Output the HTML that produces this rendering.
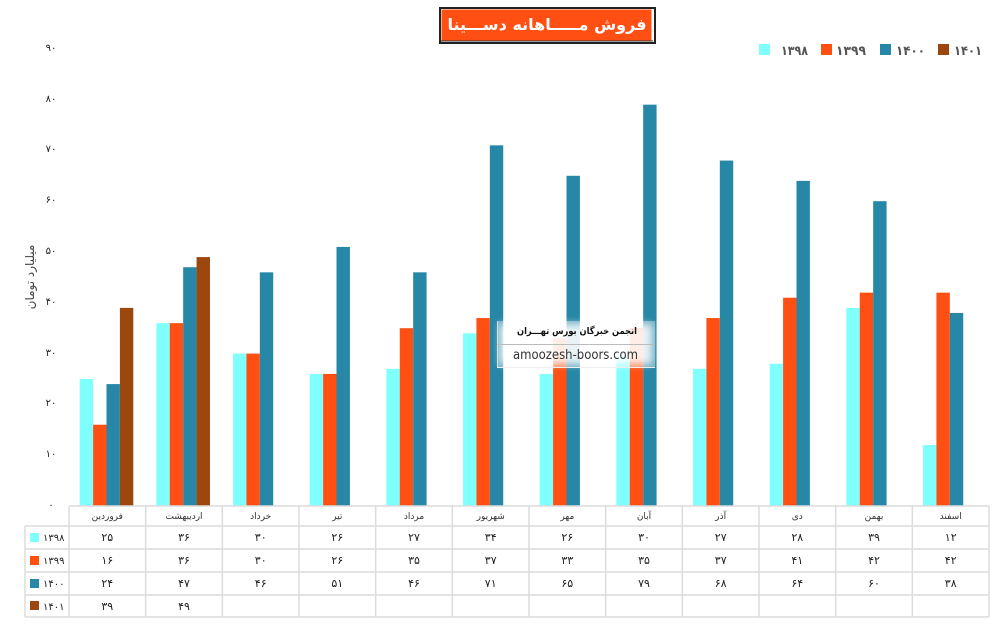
<!DOCTYPE html>
<html><head><meta charset="utf-8">
<style>
html,body{margin:0;padding:0;background:#fff;}
svg{display:block;}
text{font-family:"DejaVu Sans","Liberation Sans",sans-serif;}
</style></head>
<body>
<svg width="998" height="638" viewBox="0 0 998 638" xmlns="http://www.w3.org/2000/svg">
<defs>
<filter id="blur" x="-10%" y="-30%" width="120%" height="160%"><feGaussianBlur stdDeviation="4"/></filter>
</defs>
<rect width="998" height="638" fill="#fff"/>

<!-- Title -->
<rect x="440" y="8" width="215" height="35" fill="#fff" stroke="#222" stroke-width="2"/>
<rect x="441.5" y="9.5" width="210" height="31" fill="#FF4F12"/>
<line x1="441" y1="41" x2="653" y2="41" stroke="#333" stroke-width="1"/>
<text x="547" y="30" font-size="16" font-weight="bold" fill="#fff" text-anchor="middle" direction="rtl">فروش مـــــاهانه دســـینا</text>

<!-- Legend -->
<rect x="759" y="44" width="11" height="11" fill="#80FFFF"/>
<text x="781" y="55" font-size="13" font-weight="bold" fill="#555" textLength="27" lengthAdjust="spacingAndGlyphs">۱۳۹۸</text>
<rect x="821" y="44" width="11" height="11" fill="#FF4F12"/>
<text x="836" y="55" font-size="13" font-weight="bold" fill="#555" textLength="30" lengthAdjust="spacingAndGlyphs">۱۳۹۹</text>
<rect x="880" y="44" width="11" height="11" fill="#2787A6"/>
<text x="896" y="55" font-size="13" font-weight="bold" fill="#555" textLength="29" lengthAdjust="spacingAndGlyphs">۱۴۰۰</text>
<rect x="938" y="44" width="11" height="11" fill="#9B470E"/>
<text x="954" y="55" font-size="13" font-weight="bold" fill="#555" textLength="28" lengthAdjust="spacingAndGlyphs">۱۴۰۱</text>

<!-- Y axis labels -->
<g font-size="10" fill="#222" text-anchor="middle">
<text x="51" y="51">۹۰</text>
<text x="51" y="102">۸۰</text>
<text x="51" y="152">۷۰</text>
<text x="51" y="203">۶۰</text>
<text x="51" y="254">۵۰</text>
<text x="51" y="305">۴۰</text>
<text x="51" y="356">۳۰</text>
<text x="51" y="406">۲۰</text>
<text x="51" y="457">۱۰</text>
<text x="51" y="508">۰</text>
</g>
<text transform="translate(34,277) rotate(-90)" font-size="12" fill="#444" text-anchor="middle">میلیارد تومان</text>

<!-- Bars -->
<g>
<g transform="translate(79.7,506) scale(1,-5.08)">
<rect x="0" y="0" width="13.4" height="25" fill="#80FFFF"/><rect x="13.4" y="0" width="13.4" height="16" fill="#FF4F12"/><rect x="26.8" y="0" width="13.4" height="24" fill="#2787A6"/><rect x="40.2" y="0" width="13.4" height="39" fill="#9B470E"/></g>
<g transform="translate(156.37,506) scale(1,-5.08)">
<rect x="0" y="0" width="13.4" height="36" fill="#80FFFF"/><rect x="13.4" y="0" width="13.4" height="36" fill="#FF4F12"/><rect x="26.8" y="0" width="13.4" height="47" fill="#2787A6"/><rect x="40.2" y="0" width="13.4" height="49" fill="#9B470E"/></g>
<g transform="translate(233.03,506) scale(1,-5.08)">
<rect x="0" y="0" width="13.4" height="30" fill="#80FFFF"/><rect x="13.4" y="0" width="13.4" height="30" fill="#FF4F12"/><rect x="26.8" y="0" width="13.4" height="46" fill="#2787A6"/></g>
<g transform="translate(309.7,506) scale(1,-5.08)">
<rect x="0" y="0" width="13.4" height="26" fill="#80FFFF"/><rect x="13.4" y="0" width="13.4" height="26" fill="#FF4F12"/><rect x="26.8" y="0" width="13.4" height="51" fill="#2787A6"/></g>
<g transform="translate(386.37,506) scale(1,-5.08)">
<rect x="0" y="0" width="13.4" height="27" fill="#80FFFF"/><rect x="13.4" y="0" width="13.4" height="35" fill="#FF4F12"/><rect x="26.8" y="0" width="13.4" height="46" fill="#2787A6"/></g>
<g transform="translate(463.03,506) scale(1,-5.08)">
<rect x="0" y="0" width="13.4" height="34" fill="#80FFFF"/><rect x="13.4" y="0" width="13.4" height="37" fill="#FF4F12"/><rect x="26.8" y="0" width="13.4" height="71" fill="#2787A6"/></g>
<g transform="translate(539.7,506) scale(1,-5.08)">
<rect x="0" y="0" width="13.4" height="26" fill="#80FFFF"/><rect x="13.4" y="0" width="13.4" height="33" fill="#FF4F12"/><rect x="26.8" y="0" width="13.4" height="65" fill="#2787A6"/></g>
<g transform="translate(616.37,506) scale(1,-5.08)">
<rect x="0" y="0" width="13.4" height="30" fill="#80FFFF"/><rect x="13.4" y="0" width="13.4" height="35" fill="#FF4F12"/><rect x="26.8" y="0" width="13.4" height="79" fill="#2787A6"/></g>
<g transform="translate(693.03,506) scale(1,-5.08)">
<rect x="0" y="0" width="13.4" height="27" fill="#80FFFF"/><rect x="13.4" y="0" width="13.4" height="37" fill="#FF4F12"/><rect x="26.8" y="0" width="13.4" height="68" fill="#2787A6"/></g>
<g transform="translate(769.7,506) scale(1,-5.08)">
<rect x="0" y="0" width="13.4" height="28" fill="#80FFFF"/><rect x="13.4" y="0" width="13.4" height="41" fill="#FF4F12"/><rect x="26.8" y="0" width="13.4" height="64" fill="#2787A6"/></g>
<g transform="translate(846.37,506) scale(1,-5.08)">
<rect x="0" y="0" width="13.4" height="39" fill="#80FFFF"/><rect x="13.4" y="0" width="13.4" height="42" fill="#FF4F12"/><rect x="26.8" y="0" width="13.4" height="60" fill="#2787A6"/></g>
<g transform="translate(923.03,506) scale(1,-5.08)">
<rect x="0" y="0" width="13.4" height="12" fill="#80FFFF"/><rect x="13.4" y="0" width="13.4" height="42" fill="#FF4F12"/><rect x="26.8" y="0" width="13.4" height="38" fill="#2787A6"/></g>
</g>

<!-- Watermark -->
<rect x="500" y="324" width="152" height="40" fill="#fff" opacity="0.85" filter="url(#blur)"/>
<rect x="497" y="321" width="158" height="46" fill="#fff" opacity="0.35"/>
<line x1="497.5" y1="321" x2="497.5" y2="367" stroke="#ddd" stroke-width="1"/>
<line x1="497" y1="344.5" x2="655" y2="344.5" stroke="#bbb" stroke-width="1"/>
<line x1="497" y1="367.5" x2="655" y2="367.5" stroke="#eee" stroke-width="1"/>
<text x="577" y="334" font-size="9.5" font-weight="bold" fill="#111" text-anchor="middle" direction="rtl" textLength="120" lengthAdjust="spacingAndGlyphs">انجمن خبرگان بورس تهـــران</text>
<text x="513" y="359" font-size="13" fill="#333" textLength="125" lengthAdjust="spacingAndGlyphs">amoozesh-boors.com</text>

<!-- Table grid -->
<g stroke="#dcdcdc" stroke-width="1.5" fill="none">
<line x1="69" y1="506" x2="989" y2="506"/>
<line x1="25" y1="526" x2="989" y2="526"/>
<line x1="25" y1="549" x2="989" y2="549"/>
<line x1="25" y1="572" x2="989" y2="572"/>
<line x1="25" y1="595" x2="989" y2="595"/>
<line x1="25" y1="617" x2="989" y2="617"/>
<line x1="25" y1="526" x2="25" y2="617"/>
<line x1="69" y1="506" x2="69" y2="617"/>
<line x1="145.67" y1="506" x2="145.67" y2="617"/>
<line x1="222.33" y1="506" x2="222.33" y2="617"/>
<line x1="299" y1="506" x2="299" y2="617"/>
<line x1="375.67" y1="506" x2="375.67" y2="617"/>
<line x1="452.33" y1="506" x2="452.33" y2="617"/>
<line x1="529" y1="506" x2="529" y2="617"/>
<line x1="605.67" y1="506" x2="605.67" y2="617"/>
<line x1="682.33" y1="506" x2="682.33" y2="617"/>
<line x1="759" y1="506" x2="759" y2="617"/>
<line x1="835.67" y1="506" x2="835.67" y2="617"/>
<line x1="912.33" y1="506" x2="912.33" y2="617"/>
<line x1="989" y1="506" x2="989" y2="617"/>
</g>

<!-- Category names -->
<g font-size="9" fill="#333" text-anchor="middle">
<text x="107.3" y="519">فروردین</text>
<text x="184" y="519">اردیبهشت</text>
<text x="260.7" y="519">خرداد</text>
<text x="337.3" y="519">تیر</text>
<text x="414" y="519">مرداد</text>
<text x="490.7" y="519">شهریور</text>
<text x="567.3" y="519">مهر</text>
<text x="644" y="519">آبان</text>
<text x="720.7" y="519">آذر</text>
<text x="797.3" y="519">دی</text>
<text x="874" y="519">بهمن</text>
<text x="950.7" y="519">اسفند</text>
</g>

<!-- Row labels -->
<rect x="30" y="533" width="9" height="9" fill="#80FFFF"/>
<rect x="30" y="556" width="9" height="9" fill="#FF4F12"/>
<rect x="30" y="579" width="9" height="9" fill="#2787A6"/>
<rect x="30" y="601" width="9" height="9" fill="#9B470E"/>
<g font-size="10" fill="#222">
<text x="43" y="541">۱۳۹۸</text>
<text x="43" y="564">۱۳۹۹</text>
<text x="43" y="587">۱۴۰۰</text>
<text x="43" y="610">۱۴۰۱</text>
</g>

<!-- Values -->
<g font-size="11" fill="#222" text-anchor="middle">
<text x="107.3" y="541">۲۵</text><text x="184" y="541">۳۶</text><text x="260.7" y="541">۳۰</text><text x="337.3" y="541">۲۶</text><text x="414" y="541">۲۷</text><text x="490.7" y="541">۳۴</text><text x="567.3" y="541">۲۶</text><text x="644" y="541">۳۰</text><text x="720.7" y="541">۲۷</text><text x="797.3" y="541">۲۸</text><text x="874" y="541">۳۹</text><text x="950.7" y="541">۱۲</text>
<text x="107.3" y="564">۱۶</text><text x="184" y="564">۳۶</text><text x="260.7" y="564">۳۰</text><text x="337.3" y="564">۲۶</text><text x="414" y="564">۳۵</text><text x="490.7" y="564">۳۷</text><text x="567.3" y="564">۳۳</text><text x="644" y="564">۳۵</text><text x="720.7" y="564">۳۷</text><text x="797.3" y="564">۴۱</text><text x="874" y="564">۴۲</text><text x="950.7" y="564">۴۲</text>
<text x="107.3" y="587">۲۴</text><text x="184" y="587">۴۷</text><text x="260.7" y="587">۴۶</text><text x="337.3" y="587">۵۱</text><text x="414" y="587">۴۶</text><text x="490.7" y="587">۷۱</text><text x="567.3" y="587">۶۵</text><text x="644" y="587">۷۹</text><text x="720.7" y="587">۶۸</text><text x="797.3" y="587">۶۴</text><text x="874" y="587">۶۰</text><text x="950.7" y="587">۳۸</text>
<text x="107.3" y="610">۳۹</text><text x="184" y="610">۴۹</text>
</g>
</svg>
</body></html>
